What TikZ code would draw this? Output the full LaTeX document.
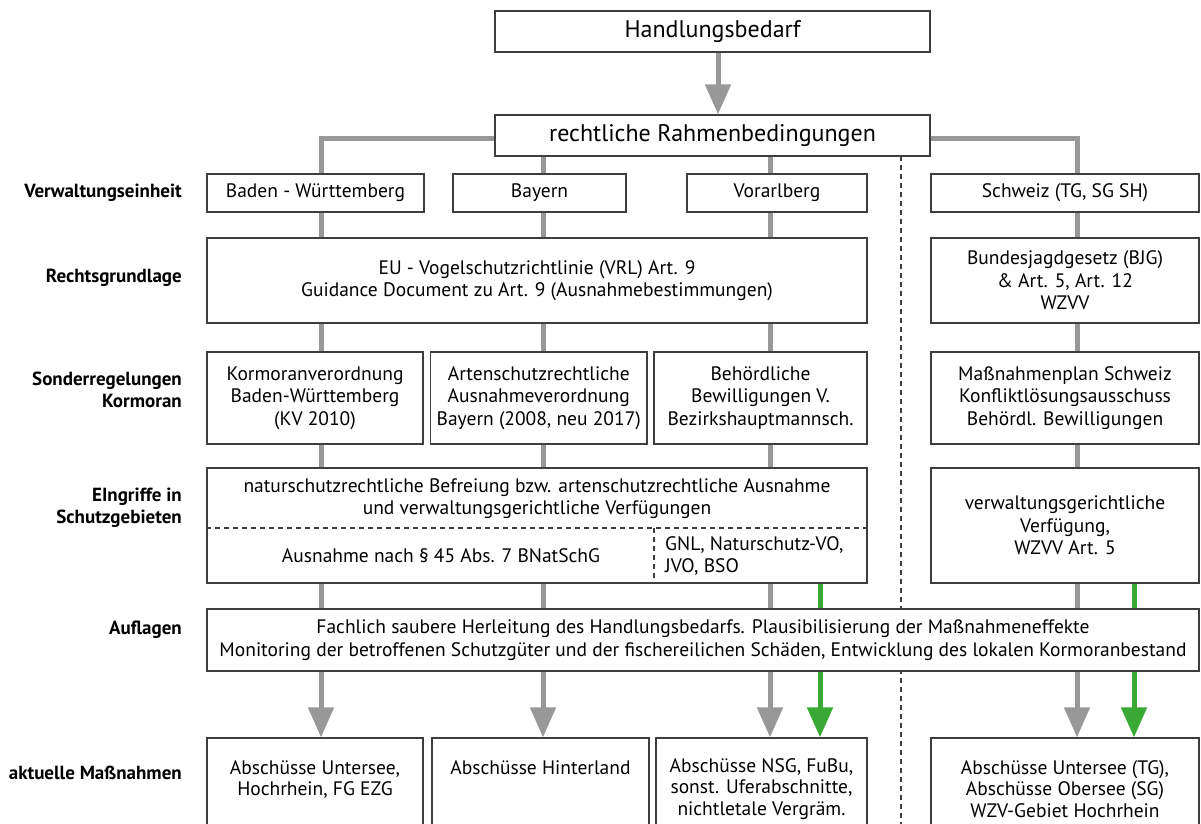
\documentclass[tikz,border=0pt]{standalone}
\usepackage{fontspec}
\setmainfont{PT Sans}
\usetikzlibrary{arrows.meta,positioning}
\definecolor{cinzaborda}{RGB}{62,62,62}
\definecolor{cinzaseta}{RGB}{152,152,152}
\definecolor{verdeseta}{RGB}{58,168,52}
\tikzset{
  caixa/.style={draw=cinzaborda,line width=1.3pt,fill=white,align=center,
    inner sep=0pt,font=\fontsize{19.5}{22.5}\selectfont},
  tam/.style 2 args={minimum width=#1pt,minimum height=#2pt},
  titulo/.style={caixa,font=\fontsize{24}{27}\selectfont},
  medida/.style={caixa,font=\fontsize{19.5}{21.5}\selectfont,minimum height=102pt},
  texto/.style={inner sep=0pt,align=center,font=\fontsize{19.5}{22.5}\selectfont},
  rotulo/.style={anchor=east,align=right,inner sep=0pt,
    font=\fontsize{19}{21.5}\selectfont\bfseries},
  ligacao/.style={draw=cinzaseta,line width=5pt},
  ligverde/.style={draw=verdeseta,line width=5pt},
  setacinza/.style={ligacao,-{Triangle[length=30pt,width=25pt]}},
  setaverde/.style={ligverde,-{Triangle[length=30pt,width=25pt]}},
  tracejado/.style={draw=cinzaborda,line width=1.1pt,dash pattern=on 5pt off 4pt}
}
\begin{document}
\begin{tikzpicture}[x=1pt,y=-1pt]
\useasboundingbox[fill=white] (0,0) rectangle (1201,823);
\coordinate (col0) at (718,0);
\coordinate (col1) at (321,0);
\coordinate (col2) at (543,0);
\coordinate (col3) at (770,0);
\coordinate (col4) at (820,0);
\coordinate (col5) at (1077,0);
\coordinate (col6) at (1134,0);
\coordinate (divtopo) at (901,156);
\coordinate (divfim) at (901,830);
\draw[tracejado] (divtopo) -- (divfim);

\node[titulo,tam={435}{41}] (hb) at (712.5,31.5) {Handlungsbedarf};
\node[titulo,tam={435}{41}] (rr) at (712.5,135.5) {rechtliche Rahmenbedingungen};

\node[caixa,tam={217}{38}] (bw) at (315.5,193) {Baden - Württemberg};
\node[caixa,tam={173}{38}] (by) at (539.5,193) {Bayern};
\node[caixa,tam={180}{38}] (vo) at (777,193) {Vorarlberg};
\node[caixa,tam={268}{38}] (ch) at (1065,193) {Schweiz (TG, SG SH)};

\node[caixa,tam={660}{85}] (eu) at (537,280.5)
  {EU - Vogelschutzrichtlinie (VRL) Art. 9\\Guidance Document zu Art. 9 (Ausnahmebestimmungen)};
\node[caixa,tam={268}{85}] (bjg) at (1065,280.5)
  {Bundesjagdgesetz (BJG)\\\& Art. 5, Art. 12\\WZVV};

\node[caixa,tam={216}{92}] (kv) at (315,398)
  {Kormoranverordnung\\Baden-Württemberg\\(KV 2010)};
\node[caixa,tam={216.5}{92}] (as) at (538.75,398)
  {Artenschutzrechtliche\\Ausnahmeverordnung\\Bayern (2008, neu 2017)};
\node[caixa,tam={213}{92}] (bh) at (760.5,398)
  {Behördliche\\Bewilligungen V.\\Bezirkshauptmannsch.};
\node[caixa,tam={268}{92}] (mp) at (1065,398)
  {Maßnahmenplan Schweiz\\Konfliktlösungsausschuss\\Behördl. Bewilligungen};

\node[caixa,tam={660}{115}] (ein) at (537,525.5) {};
\node[texto] (einsup) at (537,498.5)
  {naturschutzrechtliche Befreiung bzw. artenschutzrechtliche Ausnahme\\und verwaltungsgerichtliche Verfügungen};
\node[texto] (eininf) at (441,556) {Ausnahme nach § 45 Abs. 7 BNatSchG};
\node[texto,anchor=west,align=left] (einlado) at (665,556) {GNL, Naturschutz-VO,\\JVO, BSO};
\coordinate (einmeio) at (654,528);
\draw[tracejado] (ein.west |- einmeio) -- (ein.east |- einmeio);
\draw[tracejado] (einmeio) -- (einmeio |- ein.south);
\node[caixa,tam={268}{115}] (vg) at (1065,525.5)
  {verwaltungsgerichtliche\\Verfügung,\\WZVV Art. 5};

\node[caixa,tam={992}{62}] (af) at (703,640)
  {Fachlich saubere Herleitung des Handlungsbedarfs. Plausibilisierung der Maßnahmeneffekte\\Monitoring der betroffenen Schutzgüter und der fischereilichen Schäden, Entwicklung des lokalen Kormoranbestand};

\node[medida,minimum width=216pt] (m1) at (315,789) {Abschüsse Untersee,\\Hochrhein, FG EZG\\~};
\node[medida,minimum width=217pt] (m2) at (540.5,789) {Abschüsse Hinterland\\~\\~};
\node[medida,minimum width=211pt] (m3) at (761.5,789)
  {Abschüsse NSG, FuBu,\\sonst. Uferabschnitte,\\nichtletale Vergräm.};
\node[medida,minimum width=268pt] (m4) at (1065,789)
  {Abschüsse Untersee (TG),\\Abschüsse Obersee (SG)\\WZV-Gebiet Hochrhein};

\node[rotulo] (lverw) at (182,193) {Verwaltungseinheit};
\node[rotulo] (lrecht) at (182,278) {Rechtsgrundlage};
\node[rotulo] (lsonder) at (182,390) {Sonderregelungen\\Kormoran};
\node[rotulo] (lein) at (182,507.5) {EIngriffe in\\Schutzgebieten};
\node[rotulo] (lauf) at (182,630) {Auflagen};
\node[rotulo] (lakt) at (182,773) {aktuelle Maßnahmen};

\draw[setacinza] (hb.south -| col0) -- (rr.north -| col0);
\draw[ligacao] ([yshift=-3pt]rr.west) -| (bw.north -| col1);
\draw[ligacao] ([yshift=-3pt]rr.east) -| (ch.north -| col5);
\draw[ligacao] (rr.south -| col2) -- (by.north -| col2)
  (rr.south -| col3) -- (vo.north -| col3)
  (bw.south -| col1) -- (eu.north -| col1)
  (by.south -| col2) -- (eu.north -| col2)
  (vo.south -| col3) -- (eu.north -| col3)
  (ch.south -| col5) -- (bjg.north -| col5)
  (eu.south -| col1) -- (kv.north -| col1)
  (eu.south -| col2) -- (as.north -| col2)
  (eu.south -| col3) -- (bh.north -| col3)
  (bjg.south -| col5) -- (mp.north -| col5)
  (kv.south -| col1) -- (ein.north -| col1)
  (as.south -| col2) -- (ein.north -| col2)
  (bh.south -| col3) -- (ein.north -| col3)
  (mp.south -| col5) -- (vg.north -| col5)
  (ein.south -| col1) -- (af.north -| col1)
  (ein.south -| col2) -- (af.north -| col2)
  (ein.south -| col3) -- (af.north -| col3)
  (vg.south -| col5) -- (af.north -| col5);
\draw[ligverde] (ein.south -| col4) -- (af.north -| col4)
  (vg.south -| col6) -- (af.north -| col6);
\draw[setacinza] (af.south -| col1) -- (m1.north -| col1);
\draw[setacinza] (af.south -| col2) -- (m2.north -| col2);
\draw[setacinza] (af.south -| col3) -- (m3.north -| col3);
\draw[setacinza] (af.south -| col5) -- (m4.north -| col5);
\draw[setaverde] (af.south -| col4) -- (m3.north -| col4);
\draw[setaverde] (af.south -| col6) -- (m4.north -| col6);
\end{tikzpicture}
\end{document}
